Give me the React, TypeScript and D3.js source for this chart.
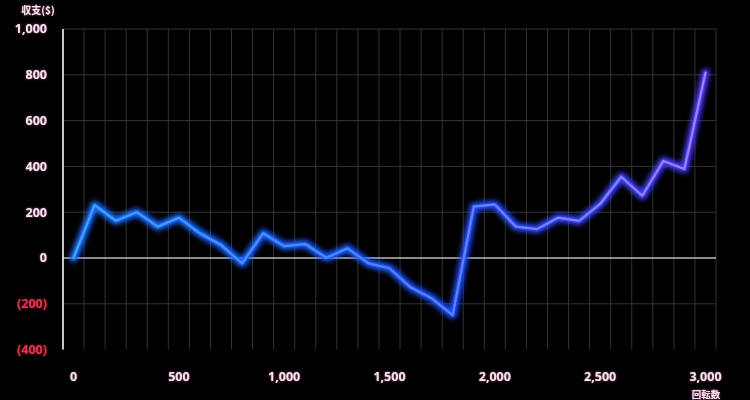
import React from "react";
import * as d3 from "d3";

const spins = d3.range(0, 3001, 100);
const balance = [0, 231, 163, 200, 137, 176, 108, 57, -23, 108, 52, 61, 1, 42, -23, -45, -128, -176, -249, 224, 234, 137, 126, 176, 162, 236, 355, 272, 424, 389, 809];
const yTicks = [-400, -200, 0, 200, 400, 600, 800, 1000];
const xLabelSpins = [0, 500, 1000, 1500, 2000, 2500, 3000];
const yTitle = "収支($)";
const xTitle = "回転数";

export default function App() {
  const W = 750, H = 400;
  const left = 63, right = 716, top = 29, bottom = 349.6;
  const x = d3.scaleBand<number>().domain(spins).range([left, right]).paddingInner(0).paddingOuter(0);
  const bw = x.bandwidth();
  const cx = (s: number) => (x(s) as number) + bw / 2;
  const y = d3.scaleLinear().domain([-400, 1000]).range([bottom, top]);
  const fmt = d3.format(",");
  const yFmt = (v: number) => (v < 0 ? `(${fmt(-v)})` : fmt(v));
  const line = d3.line<number>().x((_, i) => cx(spins[i])).y((d) => y(d));
  const path = line(balance) || "";
  const font = "'Noto Sans', 'DejaVu Sans', sans-serif";
  const edges = [...spins.map((s) => x(s) as number), right];

  return (
    <svg width={W} height={H} style={{ position: "absolute", left: 0, top: 0, background: "#000" }}>
      <defs>
        <linearGradient id="lg" gradientUnits="userSpaceOnUse" x1={left} x2={right} y1={0} y2={0}>
          <stop offset="0" stopColor="#36aaf5" />
          <stop offset="0.5" stopColor="#4a86ff" />
          <stop offset="1" stopColor="#b07ef5" />
        </linearGradient>
        <linearGradient id="lgGlow" gradientUnits="userSpaceOnUse" x1={left} x2={right} y1={0} y2={0}>
          <stop offset="0" stopColor="#1a6dff" />
          <stop offset="0.6" stopColor="#1f4cff" />
          <stop offset="1" stopColor="#4a3cff" />
        </linearGradient>
        <filter id="glow" x="-10%" y="-20%" width="120%" height="140%">
          <feGaussianBlur stdDeviation="2.6" />
        </filter>
        <filter id="tglow" x="-20%" y="-40%" width="140%" height="180%">
          <feGaussianBlur in="SourceAlpha" stdDeviation="1.2" result="b" />
          <feFlood floodColor="#c0508a" floodOpacity="0.9" />
          <feComposite in2="b" operator="in" result="s" />
          <feMerge>
            <feMergeNode in="s" />
            <feMergeNode in="SourceGraphic" />
          </feMerge>
        </filter>
        <filter id="rglow" x="-20%" y="-40%" width="140%" height="180%">
          <feGaussianBlur in="SourceAlpha" stdDeviation="1.2" result="b" />
          <feFlood floodColor="#a01030" floodOpacity="0.9" />
          <feComposite in2="b" operator="in" result="s" />
          <feMerge>
            <feMergeNode in="s" />
            <feMergeNode in="SourceGraphic" />
          </feMerge>
        </filter>
      </defs>
      <rect width={W} height={H} fill="#000" />
      {edges.map((ex, i) => (
        <line key={"v" + i} x1={ex} x2={ex} y1={top} y2={bottom} stroke="#333333" strokeWidth={1} />
      ))}
      {yTicks.filter((t) => t !== 0 && t !== -400).map((t) => (
        <line key={"h" + t} x1={left} x2={right} y1={y(t)} y2={y(t)} stroke="#333333" strokeWidth={1} />
      ))}
      <line x1={left} x2={right} y1={y(0)} y2={y(0)} stroke="#bdbdbd" strokeWidth={1.5} />
      <line x1={left} x2={left} y1={top} y2={bottom} stroke="#ffffff" strokeWidth={1.5} />
      <path d={path} fill="none" stroke="url(#lgGlow)" strokeWidth={8} strokeLinejoin="round" strokeLinecap="round" filter="url(#glow)" />
      <path d={path} fill="none" stroke="url(#lgGlow)" strokeOpacity={0.6} strokeWidth={4.5} strokeLinejoin="round" strokeLinecap="round" />
      <path d={path} fill="none" stroke="url(#lg)" strokeWidth={2.2} strokeLinejoin="round" strokeLinecap="round" />
      {yTicks.map((t) => (
        <text
          key={"yl" + t}
          x={47}
          y={y(t)}
          dy="0.35em"
          textAnchor="end"
          fontFamily={font}
          fontWeight={700}
          fontSize={12.5}
          fill={t < 0 ? "#e8324e" : "#f6e6f0"}
          filter={t < 0 ? "url(#rglow)" : "url(#tglow)"}
        >
          {yFmt(t)}
        </text>
      ))}
      {xLabelSpins.map((s) => (
        <text
          key={"xl" + s}
          x={cx(s)}
          y={377}
          dy="0.35em"
          textAnchor="middle"
          fontFamily={font}
          fontWeight={700}
          fontSize={12.5}
          fill="#f6e6f0"
          filter="url(#tglow)"
        >
          {fmt(s)}
        </text>
      ))}
      <text x={38} y={10} dy="0.35em" textAnchor="middle" fontFamily="'Noto Sans CJK JP', sans-serif" fontWeight={700} fontSize={10} fill="#f6e6f0" filter="url(#tglow)">
        {yTitle}
      </text>
      <text x={706} y={395} dy="0.35em" textAnchor="middle" fontFamily="'Noto Sans CJK JP', sans-serif" fontWeight={700} fontSize={9.5} fill="#f6e6f0" filter="url(#tglow)">
        {xTitle}
      </text>
    </svg>
  );
}
